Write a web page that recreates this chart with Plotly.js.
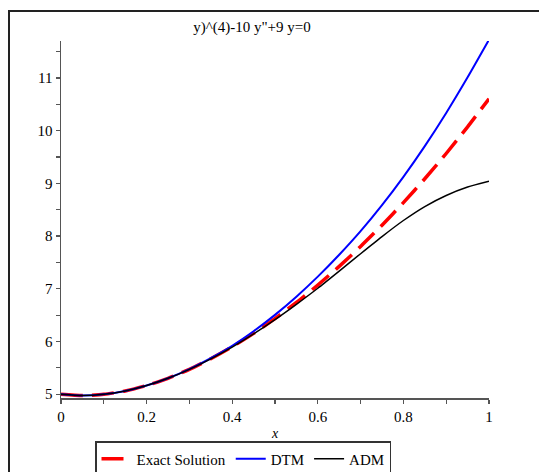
<!DOCTYPE html>
<html>
<head>
<meta charset="utf-8">
<script src="https://cdn.plot.ly/plotly-3.0.1.min.js"></script>
<style>
  html, body { margin: 0; padding: 0; width: 539px; height: 472px; overflow: hidden; background: #fff; }
  #frame { position: absolute; left: 8px; top: 10px; width: 700px; height: 700px;
           border-left: 2px solid #222; border-top: 2px solid #222; pointer-events: none; }
  #plot { position: absolute; left: 0; top: 0; width: 539px; height: 472px; }
</style>
</head>
<body>
<div id="plot"></div>
<div id="frame"></div>
<script>
// x values sampled along the curves
const xs = [0, 0.05, 0.1, 0.15, 0.2, 0.25, 0.3, 0.35, 0.4, 0.45, 0.5,
            0.55, 0.6, 0.65, 0.7, 0.75, 0.8, 0.85, 0.9, 0.95, 1.0];
// Exact solution values
const exactY = [5.000, 4.975, 4.998, 5.062, 5.165, 5.302, 5.472, 5.672, 5.899, 6.154, 6.435,
                6.740, 7.070, 7.425, 7.803, 8.206, 8.634, 9.087, 9.566, 10.072, 10.605];
// DTM approximation values
const dtmY   = [5.000, 4.975, 4.998, 5.062, 5.165, 5.303, 5.477, 5.682, 5.919, 6.194, 6.505,
                6.850, 7.230, 7.645, 8.093, 8.586, 9.124, 9.707, 10.336, 11.012, 11.725];
// ADM approximation values
const admY   = [5.000, 4.975, 4.998, 5.062, 5.165, 5.302, 5.472, 5.671, 5.894, 6.144, 6.415,
                6.705, 7.010, 7.335, 7.665, 7.990, 8.295, 8.560, 8.770, 8.930, 9.040];

const xTickVals = [0, 0.2, 0.4, 0.6, 0.8, 1];
const xTickText = ['0', '0.2', '0.4', '0.6', '0.8', '1'];

const titleText = 'y)^(4)-10 y"+9 y=0';
const xTitle = 'x';
const names = ['Exact Solution', 'DTM', 'ADM'];

const serif = '"Liberation Serif", "Times New Roman", serif';

const traces = [
  { x: xs, y: exactY, name: names[0], mode: 'lines',
    line: { color: '#ff0000', width: 3.5, dash: '22px,9px', shape: 'spline', smoothing: 0.6 } },
  { x: xs, y: dtmY, name: names[1], mode: 'lines',
    line: { color: '#0000ff', width: 2, shape: 'spline', smoothing: 0.6 } },
  { x: xs, y: admY, name: names[2], mode: 'lines',
    line: { color: '#000000', width: 1.5, shape: 'spline', smoothing: 0.6 } }
];

const layout = {
  width: 539, height: 472,
  margin: { l: 61, r: 50, t: 41, b: 74 },
  paper_bgcolor: '#fff', plot_bgcolor: '#fff',
  font: { family: serif, size: 15, color: '#000' },
  title: { text: titleText, font: { family: serif, size: 15, color: '#000' },
           x: 252 / 539, xref: 'container', xanchor: 'center',
           y: 1 - 27 / 472, yref: 'container', yanchor: 'middle' },
  xaxis: {
    range: [0, 1], showgrid: false, zeroline: false,
    showline: true, linecolor: '#555', linewidth: 1.5,
    ticks: 'outside', ticklen: 4, tickwidth: 1.2, tickcolor: '#555',
    tickmode: 'array', tickvals: xTickVals, ticktext: xTickText,
    minor: { tickmode: 'linear', tick0: 0, dtick: 0.1, ticks: 'outside', ticklen: 4, tickwidth: 1.2, tickcolor: '#555' },
    tickfont: { family: serif, size: 15 },
    title: { text: '<i>' + xTitle + '</i>', font: { family: serif, size: 14 }, standoff: 4 }
  },
  yaxis: {
    range: [4.928, 11.70], showgrid: false, zeroline: false,
    showline: true, linecolor: '#555', linewidth: 1.5,
    ticks: 'outside', ticklen: 4, tickwidth: 1.2, tickcolor: '#555',
    tick0: 5, dtick: 1,
    minor: { dtick: 0.5, ticks: 'outside', ticklen: 4, tickwidth: 1.2, tickcolor: '#555' },
    tickfont: { family: serif, size: 15 }
  },
  showlegend: true,
  legend: {
    orientation: 'h', xref: 'container', yref: 'container',
    x: 95 / 539, xanchor: 'left', y: 1 - 441 / 472, yanchor: 'top',
    bordercolor: '#333', borderwidth: 1.5, bgcolor: '#fff',
    font: { family: serif, size: 15, color: '#000' },
    itemwidth: 30, tracegroupgap: 0
  }
};

Plotly.newPlot('plot', traces, layout, { displayModeBar: false, staticPlot: true });
</script>
</body>
</html>
